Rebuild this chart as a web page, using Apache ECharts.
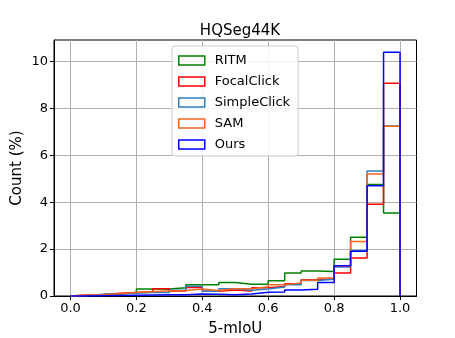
<!DOCTYPE html>
<html>
<head>
<meta charset="utf-8">
<script src="https://cdn.jsdelivr.net/npm/echarts@6/dist/echarts.min.js"></script>
<style>html,body{margin:0;padding:0;background:#fff}#c{width:455px;height:338px}</style>
</head>
<body>
<div id="c"></div>
<script>
// bin left edges (bin width 0.05)
const binEdges = [0,0.05,0.1,0.15,0.2,0.25,0.3,0.35,0.4,0.45,0.5,0.55,0.6,0.65,0.7,0.75,0.8,0.85,0.9,0.95,1.0];
const seriesNames = ['RITM','FocalClick','SimpleClick','SAM','Ours'];
const ritm        = [0.02,0.05,0.08,0.15,0.30,0.30,0.35,0.48,0.48,0.58,0.50,0.50,0.65,0.98,1.07,1.05,1.57,2.51,4.76,3.54];
const focalClick  = [0.04,0.06,0.12,0.15,0.18,0.31,0.21,0.36,0.20,0.26,0.21,0.35,0.40,0.52,0.69,0.74,0.98,1.62,3.91,9.07];
const simpleClick = [0.02,0.08,0.08,0.12,0.15,0.15,0.25,0.42,0.20,0.31,0.25,0.30,0.38,0.48,0.66,0.71,1.24,1.93,5.33,7.25];
const sam         = [0.04,0.05,0.10,0.15,0.18,0.22,0.23,0.30,0.23,0.31,0.31,0.39,0.48,0.56,0.67,0.77,1.27,2.33,5.20,7.24];
const ours        = [0.00,0.01,0.02,0.03,0.04,0.05,0.05,0.09,0.07,0.05,0.09,0.16,0.17,0.26,0.29,0.58,1.29,1.91,4.70,10.40];
const xTicks = [0,0.2,0.4,0.6,0.8,1.0];
const yTicks = [0,2,4,6,8,10];
const colors = ['#008000','#ff0000','#2f7fbf','#f26522','#0000ff'];
const values = [ritm, focalClick, simpleClick, sam, ours];

function stepPoints(v){
  const pts = [[binEdges[0],0]];
  for (let i=0;i<v.length;i++){
    pts.push([binEdges[i],v[i]]);
    pts.push([binEdges[i+1],v[i]]);
  }
  pts.push([binEdges[v.length],0]);
  return pts;
}

const chart = echarts.init(document.getElementById('c'), null, {renderer:'canvas'});
const font = 'DejaVu Sans';
chart.setOption({
  animation:false,
  backgroundColor:'#fff',
  title:{text:'HQSeg44K', left:235, textAlign:'center', top:19,
    textStyle:{fontFamily:font,fontSize:15,fontWeight:'normal',color:'#000'}},
  grid:{left:54,right:38.5,top:40,bottom:42,show:true,borderColor:'#000',borderWidth:1,backgroundColor:'transparent',
    containLabel:false, outerBoundsMode:'none'},
  graphic:[{type:'text', x:17, y:168, rotation:Math.PI/2,
    style:{text:'Count (%)', fontFamily:font, fontSize:15, fill:'#000', align:'center', verticalAlign:'middle'}}],
  legend:{
    orient:'vertical', left:172, top:46, itemWidth:26, itemHeight:9, itemGap:8,
    padding:[8,8,5,6], backgroundColor:'rgba(255,255,255,0.85)', borderColor:'#cccccc', borderWidth:1, borderRadius:3,
    textStyle:{fontFamily:font,fontSize:13,color:'#000',padding:[0,0,0,5]},
    data: seriesNames.map((n,i)=>({name:n, icon:'rect', itemStyle:{color:'rgba(255,255,255,0)', borderColor:colors[i], borderWidth:1.5}}))
  },
  xAxis:{type:'value',min:-0.05,max:1.05,
    name:'5-mIoU',nameLocation:'middle',nameGap:26,
    nameTextStyle:{fontFamily:font,fontSize:15,color:'#000'},
    axisLine:{show:true,onZero:false,lineStyle:{color:'#000',width:1}},
    axisTick:{show:true,length:4,customValues:xTicks,lineStyle:{color:'#000'}},
    axisLabel:{customValues:xTicks,fontFamily:font,fontSize:13,color:'#000',margin:6,formatter:v=>v.toFixed(1)},
    splitLine:{show:true,lineStyle:{color:'#b0b0b0',width:1}}
  },
  yAxis:{type:'value',min:0,max:10.92,
    axisLine:{show:true,onZero:false,lineStyle:{color:'#000',width:1}},
    axisTick:{show:true,length:4,customValues:yTicks,lineStyle:{color:'#000'}},
    axisLabel:{customValues:yTicks,fontFamily:font,fontSize:13,color:'#000',margin:6},
    splitLine:{show:true,lineStyle:{color:'#b0b0b0',width:1}}
  },
  series: seriesNames.map((n,i)=>({
    name:n, type:'line', data:stepPoints(values[i]), showSymbol:false, symbol:'none',
    lineStyle:{color:colors[i],width:1.5}, itemStyle:{color:colors[i]}, z:2+i, clip:true
  }))
});
</script>
</body>
</html>
